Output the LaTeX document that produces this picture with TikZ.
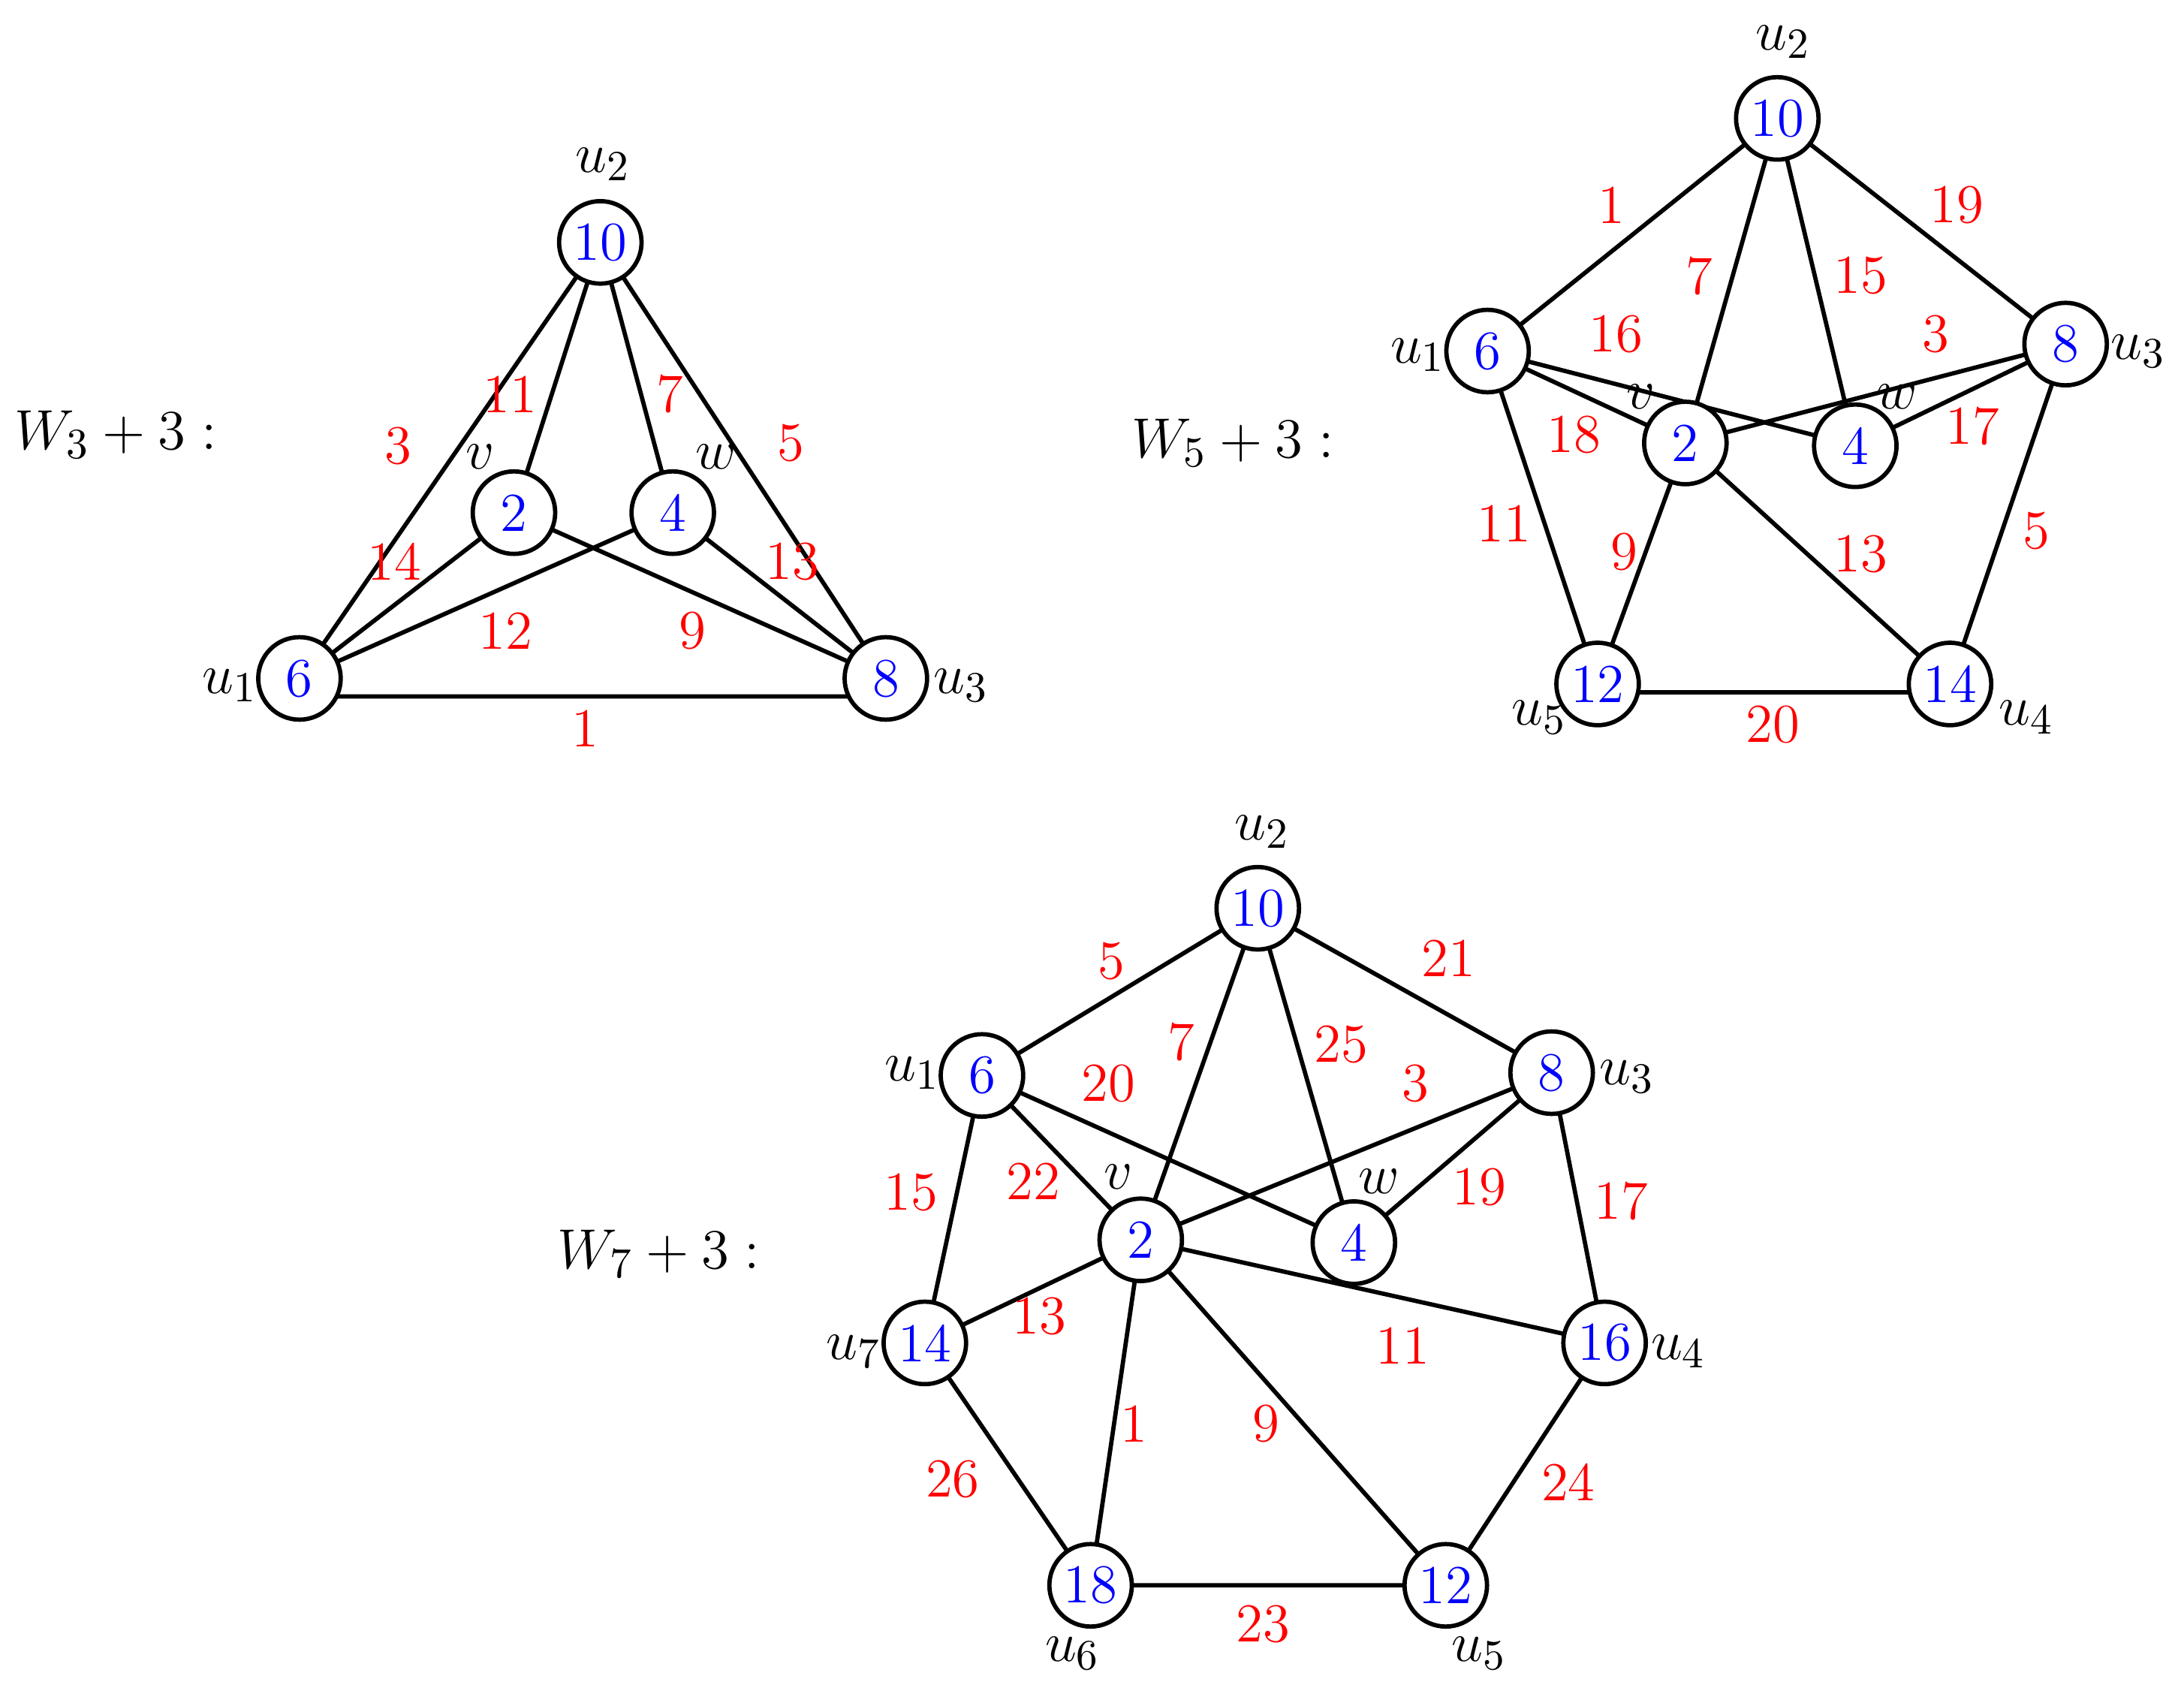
\documentclass[tikz,border=0pt]{standalone}
\begin{document}
\begin{tikzpicture}[x=0.0125cm,y=-0.0125cm,
 v/.style={circle,draw,line width=1.1pt,fill=white,minimum size=0.74cm,inner sep=0pt,text=blue,font=\fontsize{14}{16}\selectfont},
 el/.style={text=red,font=\fontsize{14}{16}\selectfont},
 lb/.style={font=\fontsize{15}{17}\selectfont},
 e/.style={line width=1.1pt}]
\useasboundingbox (0,0) rectangle (1568,1222);
% W3
\node[lb] at (83,312) {$W_3+3:$};
\coordinate (a2) at (431,174);\coordinate (av) at (369,368);\coordinate (aw) at (483,368);
\coordinate (a1) at (215,487);\coordinate (a3) at (636,487);
\coordinate (a1b) at (215,500);\coordinate (a3b) at (636,500);
\draw[e] (a1)--(a2) (a2)--(av) (a2)--(aw) (a2)--(a3) (a1)--(av) (a1)--(aw) (av)--(a3) (aw)--(a3) (a1b)--(a3b);
\node[v] at (a2) {10};\node[v] at (av) {2};\node[v] at (aw) {4};\node[v] at (a1) {6};\node[v] at (a3) {8};
\foreach \t/\x/\y in {3/286/320,11/366/283,7/481/283,5/568/318,14/283/403,12/363/453,9/497/453,13/569/403,1/420/523}
 \node[el] (l\x\y) at (\x,\y) {\t};
\node[lb] (a2l) at (433,118) {$u_2$};
\node[lb] (avl) at (345,328) {$v$};
\node[lb] (awl) at (514,328) {$w$};
\node[lb] (a1l) at (165,492) {$u_1$};
\node[lb] (a3l) at (690,492) {$u_3$};
% W5
\node[lb] at (885,318) {$W_5+3:$};
\coordinate (b2) at (1276,85);\coordinate (b1) at (1068,252);\coordinate (b3) at (1483,247);
\coordinate (bv) at (1210,318);\coordinate (bw) at (1332,320);\coordinate (b5) at (1147,491);\coordinate (b4) at (1400,491);
\coordinate (b5b) at (1147,497);\coordinate (b4b) at (1400,497);
\draw[e] (b1)--(b2) (b2)--(bv) (b2)--(bw) (b2)--(b3) (b1)--(bw) (bv)--(b3) (b1)--(bv) (bw)--(b3) (b1)--(b5) (bv)--(b5) (bv)--(b4) (b3)--(b4) (b5b)--(b4b);
\node[v] at (b2) {10};\node[v] at (b1) {6};\node[v] at (b3) {8};\node[v] at (bv) {2};\node[v] at (bw) {4};\node[v] at (b5) {12};\node[v] at (b4) {14};
\foreach \t/\x/\y in {1/1157/147,7/1220/198,15/1336/198,19/1405/147,16/1160/240,3/1390/240,18/1130/312,17/1416/306,11/1080/376,9/1166/396,13/1336/398,5/1462/381,20/1273/520}
 \node[el] (m\x\y) at (\x,\y) {\t};
\node[lb] (b2l) at (1280,30) {$u_2$};
\node[lb] (b1l) at (1018,255) {$u_1$};
\node[lb] (b3l) at (1535,252) {$u_3$};
\node[lb] (bvl) at (1178,285) {$v$};
\node[lb] (bwl) at (1362,285) {$w$};
\node[lb] (b5l) at (1105,515) {$u_5$};
\node[lb] (b4l) at (1455,515) {$u_4$};
% W7
\node[lb] at (473,900) {$W_7+3:$};
\coordinate (c2) at (903,652);\coordinate (c1) at (705,772);\coordinate (c3) at (1114,770);
\coordinate (cv) at (819,890);\coordinate (cw) at (972,892);\coordinate (c7) at (664,964);
\coordinate (c4) at (1152,964);\coordinate (c6) at (783,1138);\coordinate (c5) at (1038,1138);
\draw[e] (c1)--(c2) (c2)--(cv) (c2)--(cw) (c2)--(c3) (c1)--(cw) (cv)--(c3) (c1)--(cv) (cw)--(c3) (c1)--(c7) (c3)--(c4) (cv)--(c7) (cv)--(c4) (cv)--(c6) (cv)--(c5) (c7)--(c6) (c4)--(c5) (c6)--(c5);
\node[v] at (c2) {10};\node[v] at (c1) {6};\node[v] at (c3) {8};\node[v] at (cv) {2};\node[v] at (cw) {4};
\node[v] at (c7) {14};\node[v] at (c4) {16};\node[v] at (c6) {18};\node[v] at (c5) {12};
\foreach \t/\x/\y in {5/798/690,7/848/748,25/963/750,21/1040/688,20/796/778,3/1016/778,22/742/848,19/1062/852,15/654/856,17/1164/862,13/746/945,11/1007/966,1/814/1022,9/909/1022,26/684/1062,24/1126/1064,23/907/1166}
 \node[el] (k\x\y) at (\x,\y) {\t};
\node[lb] (c2l) at (906,597) {$u_2$};
\node[lb] (c1l) at (655,770) {$u_1$};
\node[lb] (c3l) at (1168,773) {$u_3$};
\node[lb] (cvl) at (803,845) {$v$};
\node[lb] (cwl) at (990,848) {$w$};
\node[lb] (c7l) at (613,970) {$u_7$};
\node[lb] (c4l) at (1205,970) {$u_4$};
\node[lb] (c6l) at (770,1187) {$u_6$};
\node[lb] (c5l) at (1062,1187) {$u_5$};
\end{tikzpicture}
\end{document}
